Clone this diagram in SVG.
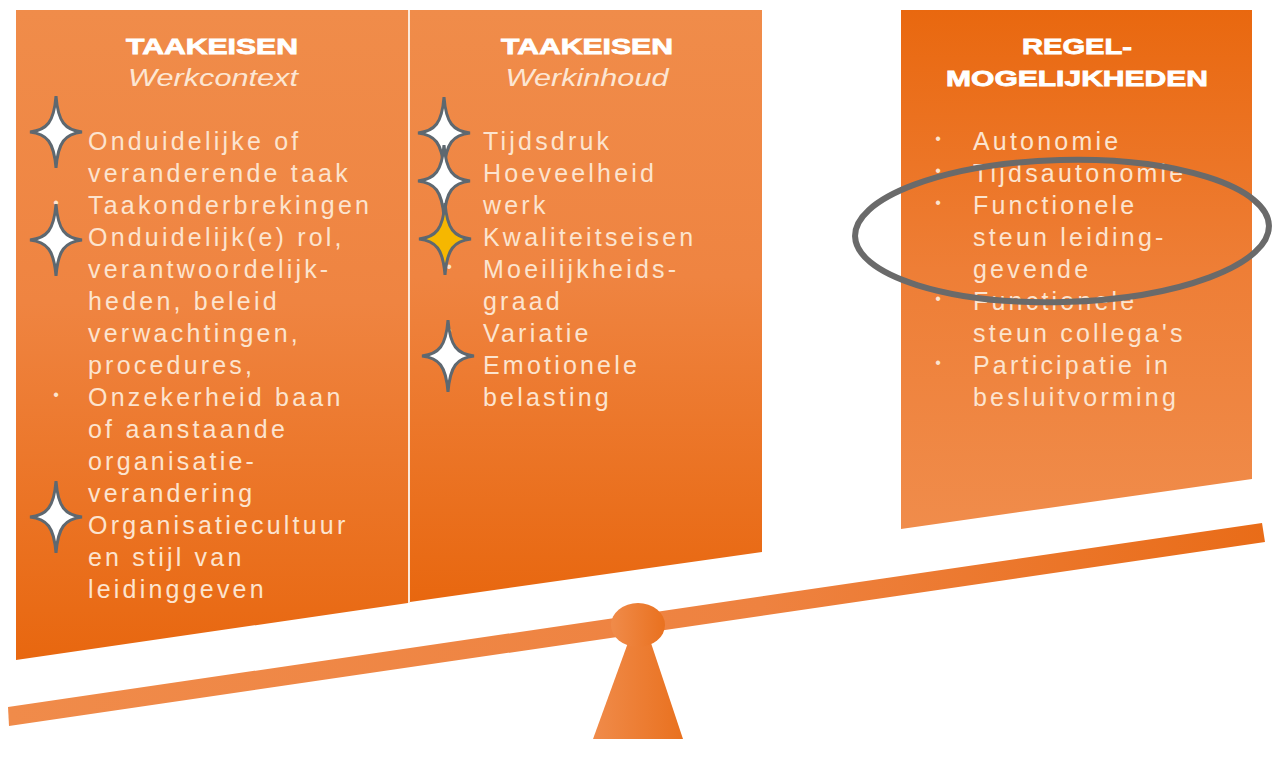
<svg xmlns="http://www.w3.org/2000/svg" width="1273" height="763" viewBox="0 0 1273 763">
<defs>
<linearGradient id="gDown" x1="0" y1="0" x2="0" y2="1">
<stop offset="0" stop-color="#F08C4A"/>
<stop offset="0.45" stop-color="#EF8441"/>
<stop offset="1" stop-color="#E8670F"/>
</linearGradient>
<linearGradient id="gUp" x1="0" y1="0" x2="0" y2="1">
<stop offset="0" stop-color="#E9680F"/>
<stop offset="0.5" stop-color="#EE7E36"/>
<stop offset="1" stop-color="#F08C4B"/>
</linearGradient>
<linearGradient id="gBeam" x1="0" y1="0" x2="1" y2="0">
<stop offset="0" stop-color="#F08B4A"/>
<stop offset="0.6" stop-color="#EE8240"/>
<stop offset="1" stop-color="#E96C18"/>
</linearGradient>
<linearGradient id="gFul" x1="0" y1="0" x2="1" y2="0">
<stop offset="0" stop-color="#F08B4A"/>
<stop offset="1" stop-color="#E9711F"/>
</linearGradient>
<path id="star" d="M0,-36 C2,-10 9,-2 26,0 C9,2 2,10 0,36 C-2,10 -9,2 -26,0 C-9,-2 -2,-10 0,-36 Z"/>
</defs>
<style>
.hd{font-family:"Liberation Sans",Arial,sans-serif;font-weight:bold;font-size:22px;fill:#FFFFFF;text-anchor:middle;stroke:#FFFFFF;stroke-width:0.8}
.sub{font-family:"Liberation Sans",Arial,sans-serif;font-style:italic;font-size:23px;fill:#FCE6D3;text-anchor:middle}
.it{font-family:"Liberation Sans",Arial,sans-serif;font-size:25px;letter-spacing:3.2px;fill:#FCE4CF}
.bul{font-family:"Liberation Sans",Arial,sans-serif;font-size:16px;fill:#FCE4CF;text-anchor:middle}
.st{fill:#FFFFFF;stroke:#5E6870;stroke-width:3;stroke-linejoin:miter}
.sty{fill:#F6B700;stroke:#5E6870;stroke-width:3}
</style>
<rect x="0" y="0" width="1273" height="763" fill="#FFFFFF"/>

<g id="balance">
<polygon points="8,707 1262,523 1265,542 9,726" fill="url(#gBeam)"/>
<polygon points="629,640 650,640 683,739 593,739" fill="url(#gFul)"/>
<ellipse cx="638" cy="625" rx="27" ry="22" fill="url(#gFul)"/>
</g>

<g id="panel-werkcontext">
<polygon points="16,10 408,10 408,603 16,660" fill="url(#gDown)"/>
<text class="hd" x="212" y="54" textLength="172" lengthAdjust="spacingAndGlyphs">TAAKEISEN</text>
<text class="sub" x="213" y="86" textLength="170" lengthAdjust="spacingAndGlyphs">Werkcontext</text>
<text class="bul" x="56" y="208">•</text>
<text class="bul" x="56" y="400">•</text>
<text class="it" x="88" y="150">Onduidelijke of</text>
<text class="it" x="88" y="182">veranderende taak</text>
<text class="it" x="88" y="214">Taakonderbrekingen</text>
<text class="it" x="88" y="246">Onduidelijk(e) rol,</text>
<text class="it" x="88" y="278">verantwoordelijk-</text>
<text class="it" x="88" y="310">heden, beleid</text>
<text class="it" x="88" y="342">verwachtingen,</text>
<text class="it" x="88" y="374">procedures,</text>
<text class="it" x="88" y="406">Onzekerheid baan</text>
<text class="it" x="88" y="438">of aanstaande</text>
<text class="it" x="88" y="470">organisatie-</text>
<text class="it" x="88" y="502">verandering</text>
<text class="it" x="88" y="534">Organisatiecultuur</text>
<text class="it" x="88" y="566">en stijl van</text>
<text class="it" x="88" y="598">leidinggeven</text>
<use href="#star" class="st" x="56" y="132"/>
<use href="#star" class="st" x="56" y="240"/>
<use href="#star" class="st" x="56" y="517"/>
</g>

<g id="panel-werkinhoud">
<polygon points="410,10 762,10 762,552 410,602" fill="url(#gDown)"/>
<line x1="409" y1="10" x2="409" y2="603" stroke="#FCE9DA" stroke-width="2"/>
<text class="hd" x="587" y="54" textLength="172" lengthAdjust="spacingAndGlyphs">TAAKEISEN</text>
<text class="sub" x="587" y="86" textLength="163" lengthAdjust="spacingAndGlyphs">Werkinhoud</text>
<text class="bul" x="449" y="272">•</text>
<text class="bul" x="449" y="336">•</text>
<text class="it" x="483" y="150">Tijdsdruk</text>
<text class="it" x="483" y="182">Hoeveelheid</text>
<text class="it" x="483" y="214">werk</text>
<text class="it" x="483" y="246">Kwaliteitseisen</text>
<text class="it" x="483" y="278">Moeilijkheids-</text>
<text class="it" x="483" y="310">graad</text>
<text class="it" x="483" y="342">Variatie</text>
<text class="it" x="483" y="374">Emotionele</text>
<text class="it" x="483" y="406">belasting</text>
<use href="#star" class="st" x="444" y="133"/>
<use href="#star" class="st" x="444" y="181"/>
<use href="#star" class="sty" x="445" y="239"/>
<use href="#star" class="st" x="448" y="356"/>
</g>

<g id="panel-regelmogelijkheden">
<polygon points="901,10 1252,10 1252,479 901,529" fill="url(#gUp)"/>
<text class="hd" x="1077" y="54" textLength="110" lengthAdjust="spacingAndGlyphs">REGEL-</text>
<text class="hd" x="1077" y="86" textLength="262" lengthAdjust="spacingAndGlyphs">MOGELIJKHEDEN</text>
<text class="bul" x="938" y="144">•</text>
<text class="bul" x="938" y="176">•</text>
<text class="bul" x="938" y="208">•</text>
<text class="bul" x="938" y="304">•</text>
<text class="bul" x="938" y="368">•</text>
<text class="it" x="973" y="150">Autonomie</text>
<text class="it" x="973" y="182">Tijdsautonomie</text>
<text class="it" x="973" y="214">Functionele</text>
<text class="it" x="973" y="246">steun leiding-</text>
<text class="it" x="973" y="278">gevende</text>
<text class="it" x="973" y="310">Functionele</text>
<text class="it" x="973" y="342">steun collega's</text>
<text class="it" x="973" y="374">Participatie in</text>
<text class="it" x="973" y="406">besluitvorming</text>
</g>

<g id="highlight">
<ellipse cx="1062" cy="231" rx="207" ry="71" fill="none" stroke="#6A6A6A" stroke-width="6" transform="rotate(-1.5 1062 231)"/>
</g>
</svg>
